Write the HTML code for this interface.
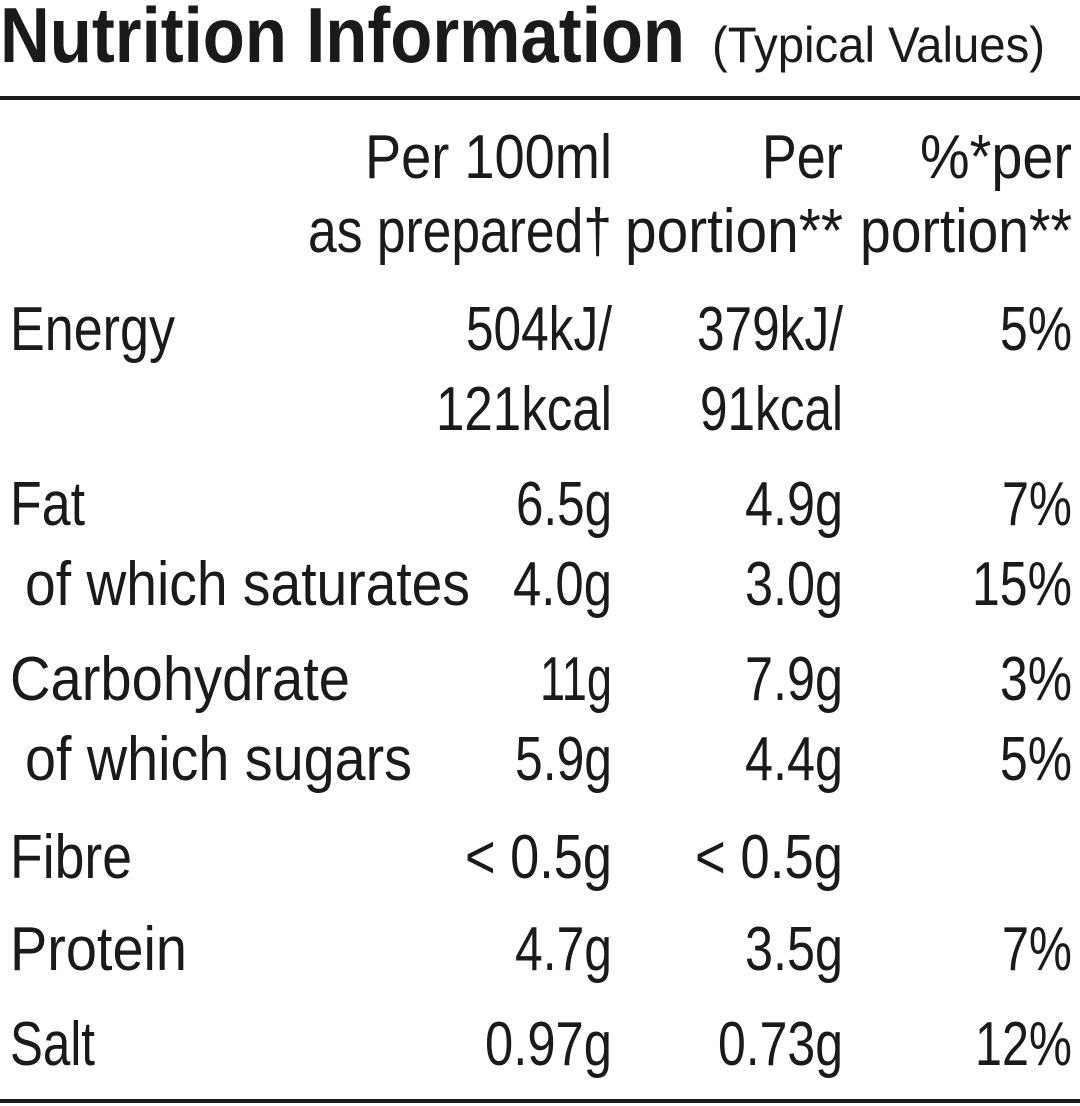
<!DOCTYPE html>
<html><head><meta charset="utf-8"><style>
html,body{margin:0;padding:0;background:#fff;}
svg{display:block;}
text{font-family:"Liberation Sans",sans-serif;fill:#1a1a1a;}
</style></head><body>
<svg width="1080" height="1106" viewBox="0 0 1080 1106" xmlns="http://www.w3.org/2000/svg">
<g lengthAdjust="spacingAndGlyphs">
<text x="0" y="62" font-size="78" font-weight="bold" textLength="685" lengthAdjust="spacingAndGlyphs">Nutrition Information</text>
<text x="712" y="62" font-size="50" textLength="333" lengthAdjust="spacingAndGlyphs">(Typical Values)</text>
</g>
<rect x="0" y="96" width="1080" height="4" fill="#1a1a1a"/>
<rect x="0" y="1099" width="1080" height="4" fill="#1a1a1a"/>
<g font-size="62">
<!-- headers -->
<text x="612" y="178" text-anchor="end" textLength="247" lengthAdjust="spacingAndGlyphs">Per 100ml</text>
<text x="612" y="252" text-anchor="end" textLength="304" lengthAdjust="spacingAndGlyphs">as prepared†</text>
<text x="843" y="178" text-anchor="end" textLength="81" lengthAdjust="spacingAndGlyphs">Per</text>
<text x="843" y="252" text-anchor="end" textLength="218" lengthAdjust="spacingAndGlyphs">portion**</text>
<text x="1072" y="178" text-anchor="end" textLength="152" lengthAdjust="spacingAndGlyphs">%*per</text>
<text x="1072" y="252" text-anchor="end" textLength="212" lengthAdjust="spacingAndGlyphs">portion**</text>

<text x="10" y="350" textLength="165" lengthAdjust="spacingAndGlyphs">Energy</text>
<text x="612" y="350" text-anchor="end" textLength="146" lengthAdjust="spacingAndGlyphs">504kJ/</text>
<text x="612" y="430" text-anchor="end" textLength="176" lengthAdjust="spacingAndGlyphs">121kcal</text>
<text x="843" y="350" text-anchor="end" textLength="146" lengthAdjust="spacingAndGlyphs">379kJ/</text>
<text x="843" y="430" text-anchor="end" textLength="143" lengthAdjust="spacingAndGlyphs">91kcal</text>
<text x="1072" y="350" text-anchor="end" textLength="72" lengthAdjust="spacingAndGlyphs">5%</text>

<text x="10" y="525" textLength="75" lengthAdjust="spacingAndGlyphs">Fat</text>
<text x="612" y="525" text-anchor="end" textLength="96" lengthAdjust="spacingAndGlyphs">6.5g</text>
<text x="843" y="525" text-anchor="end" textLength="98" lengthAdjust="spacingAndGlyphs">4.9g</text>
<text x="1072" y="525" text-anchor="end" textLength="70" lengthAdjust="spacingAndGlyphs">7%</text>

<text x="25" y="605" textLength="445" lengthAdjust="spacingAndGlyphs">of which saturates</text>
<text x="612" y="605" text-anchor="end" textLength="99" lengthAdjust="spacingAndGlyphs">4.0g</text>
<text x="843" y="605" text-anchor="end" textLength="98" lengthAdjust="spacingAndGlyphs">3.0g</text>
<text x="1072" y="605" text-anchor="end" textLength="100" lengthAdjust="spacingAndGlyphs">15%</text>

<text x="10" y="700" textLength="340" lengthAdjust="spacingAndGlyphs">Carbohydrate</text>
<text x="612" y="700" text-anchor="end" textLength="72" lengthAdjust="spacingAndGlyphs">11g</text>
<text x="843" y="700" text-anchor="end" textLength="98" lengthAdjust="spacingAndGlyphs">7.9g</text>
<text x="1072" y="700" text-anchor="end" textLength="72" lengthAdjust="spacingAndGlyphs">3%</text>

<text x="25" y="780" textLength="387" lengthAdjust="spacingAndGlyphs">of which sugars</text>
<text x="612" y="780" text-anchor="end" textLength="97" lengthAdjust="spacingAndGlyphs">5.9g</text>
<text x="843" y="780" text-anchor="end" textLength="98" lengthAdjust="spacingAndGlyphs">4.4g</text>
<text x="1072" y="780" text-anchor="end" textLength="72" lengthAdjust="spacingAndGlyphs">5%</text>

<text x="10" y="878" textLength="122" lengthAdjust="spacingAndGlyphs">Fibre</text>
<text x="612" y="878" text-anchor="end" textLength="147" lengthAdjust="spacingAndGlyphs">&lt; 0.5g</text>
<text x="843" y="878" text-anchor="end" textLength="148" lengthAdjust="spacingAndGlyphs">&lt; 0.5g</text>

<text x="10" y="970" textLength="177" lengthAdjust="spacingAndGlyphs">Protein</text>
<text x="612" y="970" text-anchor="end" textLength="97" lengthAdjust="spacingAndGlyphs">4.7g</text>
<text x="843" y="970" text-anchor="end" textLength="98" lengthAdjust="spacingAndGlyphs">3.5g</text>
<text x="1072" y="970" text-anchor="end" textLength="70" lengthAdjust="spacingAndGlyphs">7%</text>

<text x="10" y="1065" textLength="85" lengthAdjust="spacingAndGlyphs">Salt</text>
<text x="612" y="1065" text-anchor="end" textLength="127" lengthAdjust="spacingAndGlyphs">0.97g</text>
<text x="843" y="1065" text-anchor="end" textLength="125" lengthAdjust="spacingAndGlyphs">0.73g</text>
<text x="1072" y="1065" text-anchor="end" textLength="97" lengthAdjust="spacingAndGlyphs">12%</text>
</g>
</svg>
</body></html>
